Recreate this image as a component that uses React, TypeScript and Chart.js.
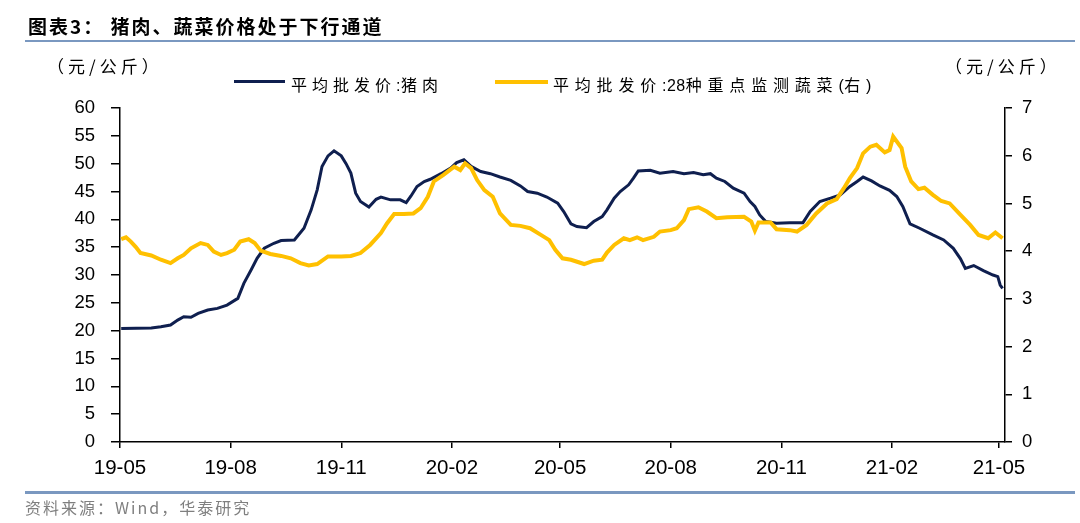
import React, { useEffect, useRef } from 'react';
import { Chart, registerables } from 'chart.js';

Chart.register(...registerables);

// x positions are days since 2019-05-01
const BASE_UTC = Date.UTC(2019, 4, 1);
const xTickLabels = ['19-05', '19-08', '19-11', '20-02', '20-05', '20-08', '20-11', '21-02', '21-05'];
const xTickDays = xTickLabels.map((l) => {
  const [yy, mm] = l.split('-').map(Number);
  return Math.round((Date.UTC(2000 + yy, mm - 1, 1) - BASE_UTC) / 86400000);
});

const porkDay = [1, 26, 34, 42, 48, 53, 59, 65, 73, 81, 89, 98, 103, 109, 114, 120, 128, 134, 145, 153, 159, 164, 168, 173, 178, 184, 188, 192, 196, 200, 207, 213, 217, 225, 233, 238, 242, 247, 253, 258, 267, 275, 280, 286, 292, 300, 308, 316, 325, 333, 339, 347, 355, 364, 369, 375, 380, 388, 394, 401, 405, 411, 416, 423, 427, 431, 441, 449, 460, 469, 477, 485, 491, 496, 503, 510, 519, 524, 528, 532, 537, 546, 557, 568, 574, 582, 591, 599, 607, 613, 618, 625, 632, 640, 646, 651, 657, 665, 676, 685, 693, 699, 703, 710, 718, 726, 730, 732, 734];
const porkPrice = [20.4, 20.5, 20.7, 21.0, 21.9, 22.5, 22.4, 23.1, 23.7, 24.0, 24.6, 25.8, 28.5, 30.9, 33.0, 34.8, 35.7, 36.2, 36.3, 38.4, 41.7, 45.3, 49.5, 51.4, 52.3, 51.4, 50.0, 48.3, 44.7, 43.2, 42.2, 43.6, 44.0, 43.5, 43.5, 43.0, 44.2, 45.9, 46.8, 47.2, 48.2, 49.2, 50.2, 50.7, 49.5, 48.6, 48.2, 47.6, 47.0, 46.0, 45.0, 44.7, 44.0, 42.9, 41.4, 39.2, 38.7, 38.5, 39.6, 40.5, 41.7, 43.8, 45.0, 46.2, 47.4, 48.7, 48.8, 48.3, 48.6, 48.2, 48.4, 48.0, 48.2, 47.4, 46.8, 45.6, 44.7, 43.2, 42.3, 40.8, 39.6, 39.3, 39.4, 39.4, 41.4, 43.2, 43.8, 44.4, 45.9, 46.8, 47.6, 46.9, 46.0, 45.2, 44.1, 42.3, 39.2, 38.4, 37.2, 36.3, 34.8, 32.9, 31.2, 31.7, 30.8, 30.0, 29.7, 28.2, 27.6];

const vegDay = [1, 5, 9, 13, 17, 26, 34, 42, 48, 53, 59, 67, 73, 78, 84, 89, 95, 100, 107, 112, 117, 125, 134, 142, 150, 157, 164, 173, 184, 192, 200, 208, 217, 222, 228, 236, 244, 250, 256, 261, 269, 278, 283, 287, 292, 297, 303, 310, 316, 325, 333, 341, 350, 357, 362, 368, 375, 386, 394, 401, 405, 411, 419, 424, 430, 435, 444, 449, 458, 463, 469, 473, 481, 488, 496, 505, 519, 525, 528, 531, 541, 546, 557, 563, 571, 579, 588, 596, 602, 607, 613, 618, 624, 629, 636, 640, 643, 650, 653, 658, 664, 669, 676, 683, 690, 699, 707, 714, 722, 728, 734];
const vegPrice = [4.25, 4.29, 4.20, 4.09, 3.96, 3.91, 3.82, 3.75, 3.85, 3.92, 4.06, 4.17, 4.13, 3.99, 3.92, 3.96, 4.03, 4.20, 4.25, 4.17, 4.01, 3.94, 3.90, 3.85, 3.75, 3.70, 3.73, 3.89, 3.89, 3.90, 3.96, 4.13, 4.38, 4.58, 4.78, 4.78, 4.79, 4.90, 5.14, 5.46, 5.60, 5.77, 5.70, 5.84, 5.74, 5.49, 5.28, 5.14, 4.79, 4.55, 4.53, 4.48, 4.34, 4.23, 4.03, 3.85, 3.82, 3.73, 3.80, 3.82, 3.97, 4.13, 4.27, 4.23, 4.29, 4.23, 4.30, 4.41, 4.44, 4.48, 4.65, 4.88, 4.92, 4.83, 4.69, 4.71, 4.72, 4.62, 4.43, 4.60, 4.60, 4.46, 4.44, 4.41, 4.55, 4.79, 5.00, 5.09, 5.32, 5.53, 5.74, 6.05, 6.19, 6.23, 6.07, 6.12, 6.40, 6.16, 5.77, 5.46, 5.30, 5.33, 5.18, 5.05, 5.00, 4.76, 4.55, 4.34, 4.27, 4.39, 4.27];

const porkLabel = '平均批发价:猪肉';
const vegLabel = '平均批发价:28种重点监测蔬菜(右)';
const titleText = '图表3：  猪肉、蔬菜价格处于下行通道';
const unitText = '（元/公斤）';
const sourceText = '资料来源：Wind，华泰研究';

const NAVY = '#0f1f4f';
const GOLD = '#ffc000';
const RULE = '#7a98c0';
const CJK = '"Noto Sans CJK SC", "Noto Sans", sans-serif';
const LATIN = '"Liberation Sans", Arial, sans-serif';

// split a label into CJK / ASCII runs so latin digits stay tight
function Spaced({ text, cjkSpacing }: { text: string; cjkSpacing: number }) {
  const runs = text.match(/[\x20-\x7e]+|[^\x20-\x7e]+/g) || [];
  return (
    <>
      {runs.map((r, i) => {
        const ascii = /^[\x20-\x7e]+$/.test(r);
        return (
          <span key={i} style={{ letterSpacing: ascii ? 0.5 : cjkSpacing, fontFamily: ascii ? LATIN : CJK }}>
            {r}
          </span>
        );
      })}
    </>
  );
}

export default function App() {
  const ref = useRef<HTMLCanvasElement | null>(null);

  useEffect(() => {
    if (!ref.current) return;
    const chart = new Chart(ref.current, {
      type: 'line',
      data: {
        datasets: [
          {
            label: porkLabel,
            data: porkDay.map((d, i) => ({ x: d, y: porkPrice[i] })),
            borderColor: NAVY,
            backgroundColor: NAVY,
            borderWidth: 3,
            pointRadius: 0,
            tension: 0,
            yAxisID: 'y',
            order: 1,
          },
          {
            label: vegLabel,
            data: vegDay.map((d, i) => ({ x: d, y: vegPrice[i] })),
            borderColor: GOLD,
            backgroundColor: GOLD,
            borderWidth: 4,
            pointRadius: 0,
            tension: 0,
            yAxisID: 'y1',
            order: 0,
          },
        ],
      },
      options: {
        responsive: false,
        animation: false,
        devicePixelRatio: 1,
        layout: { padding: { left: 60, right: 15, top: 108, bottom: 41 } },
        plugins: { legend: { display: false }, tooltip: { enabled: false } },
        scales: {
          x: {
            type: 'linear',
            min: 0,
            max: 736,
            afterBuildTicks: (s: any) => {
              s.ticks = xTickDays.map((v) => ({ value: v }));
            },
            afterFit: (s: any) => {
              s.height = 40;
            },
            ticks: {
              callback: (v: any) => {
                const i = xTickDays.indexOf(Number(v));
                return i >= 0 ? xTickLabels[i] : '';
              },
              font: { family: LATIN, size: 20.5 },
              color: '#000',
              padding: 8,
              maxRotation: 0,
              autoSkip: false,
            },
            grid: { drawOnChartArea: false, drawTicks: true, tickLength: 6, color: '#000', lineWidth: 1.5 },
            border: { color: '#000', width: 1.5 },
          },
          y: {
            position: 'left',
            min: 0,
            max: 60,
            afterFit: (s: any) => {
              s.width = 60;
            },
            ticks: { stepSize: 5, font: { family: LATIN, size: 18.5 }, color: '#000', padding: 16 },
            grid: { drawOnChartArea: false, drawTicks: true, tickLength: 9, color: '#000', lineWidth: 1.5 },
            border: { color: '#000', width: 1.5 },
          },
          y1: {
            position: 'right',
            min: 0,
            max: 7,
            afterFit: (s: any) => {
              s.width = 60;
            },
            ticks: { stepSize: 1, font: { family: LATIN, size: 18.5 }, color: '#000', padding: 10 },
            grid: { drawOnChartArea: false, drawTicks: true, tickLength: 7, color: '#000', lineWidth: 1.5 },
            border: { color: '#000', width: 1.5 },
          },
        },
      },
    });
    return () => chart.destroy();
  }, []);

  const abs = (s: React.CSSProperties): React.CSSProperties => ({ position: 'absolute', whiteSpace: 'nowrap', ...s });

  return (
    <div style={{ position: 'fixed', left: 0, top: 0, width: 1080, height: 523, background: '#fff', overflow: 'hidden' }}>
      <canvas ref={ref} width={1080} height={523} style={{ position: 'absolute', left: 0, top: 0, width: 1080, height: 523 }} />
      <div style={abs({ left: 28, top: 14, fontFamily: CJK, fontWeight: 700, fontSize: 19, lineHeight: '24px', letterSpacing: 2, color: '#000' })}>{titleText}</div>
      <div style={abs({ left: 25, top: 40, width: 1050, height: 2, background: RULE })} />
      <div style={abs({ left: 47, top: 56, fontFamily: CJK, fontSize: 17, lineHeight: '20px', letterSpacing: 4, color: '#000' })}>{unitText}</div>
      <div style={abs({ left: 945, top: 56, fontFamily: CJK, fontSize: 17, lineHeight: '20px', letterSpacing: 4, color: '#000' })}>{unitText}</div>
      <div style={abs({ left: 234, top: 80, width: 51, height: 3, background: NAVY })} />
      <div style={abs({ left: 291, top: 74, fontSize: 16, lineHeight: '20px', color: '#000' })}>
        <Spaced text={porkLabel} cjkSpacing={5} />
      </div>
      <div style={abs({ left: 495, top: 79.5, width: 53, height: 4, background: GOLD })} />
      <div style={abs({ left: 553, top: 74, fontSize: 16, lineHeight: '20px', color: '#000' })}>
        <Spaced text={vegLabel} cjkSpacing={5.8} />
      </div>
      <div style={abs({ left: 25, top: 491, width: 1050, height: 3, background: RULE })} />
      <div style={abs({ left: 25, top: 497, fontFamily: CJK, fontSize: 16, lineHeight: '20px', letterSpacing: 2, color: '#7f7f7f' })}>{sourceText}</div>
    </div>
  );
}
